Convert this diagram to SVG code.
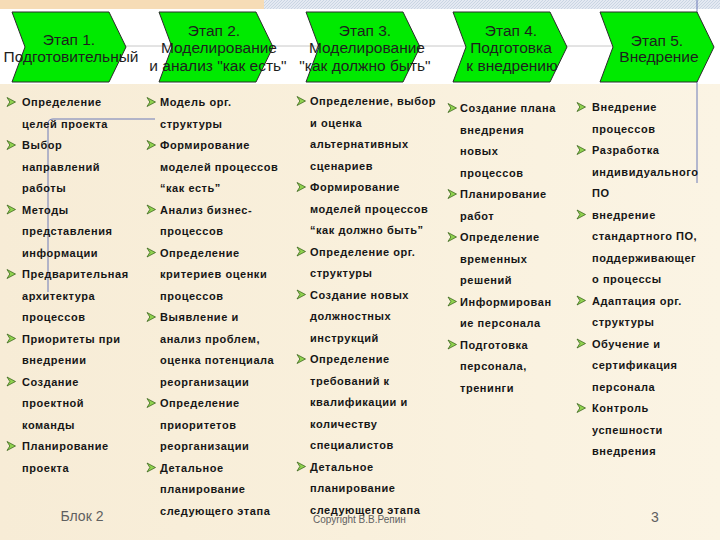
<svg xmlns="http://www.w3.org/2000/svg" xmlns:xlink="http://www.w3.org/1999/xlink" width="720" height="540" viewBox="0 0 720 540">
<defs>
<linearGradient id="bg" x1="0" y1="0" x2="1" y2="0">
<stop offset="0" stop-color="#f7ecd6"/>
<stop offset="0.5" stop-color="#f9f0dc"/>
<stop offset="1" stop-color="#fbf4e4"/>
</linearGradient>
<pattern id="hatch" width="3" height="3" patternUnits="userSpaceOnUse">
<rect width="3" height="3" fill="#e4e9f2"/>
<path d="M0,3 L3,0" stroke="#c4cfe0" stroke-width="0.8"/>
</pattern>
<g id="bul">
<path d="M0,-4.5 L8.5,0 L0,4.5 L2.8,0 Z" fill="#8fd14f" stroke="#2f5a12" stroke-width="0.7" stroke-linejoin="round"/>
</g>
<style>
.ch{fill:#00ea00;stroke:#2a2a2a;stroke-width:1}
.ct{font-family:"Liberation Sans",Arial,sans-serif;font-size:15.5px;fill:#1e1e1e;text-anchor:middle}
.b{font-family:"Liberation Sans",Arial,sans-serif;font-size:11px;font-weight:bold;letter-spacing:0.55px;fill:#161616}
.ft{font-family:"Liberation Sans",Arial,sans-serif;fill:#606060}
.conn{stroke:#c8c8c8;stroke-width:1;fill:none}
.blue{stroke:#6c7bb8;stroke-width:1;fill:none}
</style>
</defs>

<rect width="720" height="540" fill="url(#bg)"/>
<rect x="0" y="0" width="264" height="9" fill="#f6dcb6"/>
<rect x="264" y="0" width="456" height="9" fill="url(#hatch)"/>
<rect x="0" y="9" width="720" height="75" fill="#ffffff"/>

<g id="connectors">
<line class="conn" x1="126" y1="46" x2="615" y2="46"/>
<path class="blue" d="M48,292 L48,124 Q48,119 53,119 L155,119"/>
<line class="blue" x1="697" y1="0" x2="697" y2="183"/>
</g>

<g id="stage1">
<polygon class="ch" points="12,12 109,12 126,47 109,82 12,82 25,47"/>
<text class="ct" x="69" y="45">Этап 1.</text>
<text class="ct" x="71" y="62">Подготовительный</text>
</g>
<g id="stage2">
<polygon class="ch" points="159,12 256,12 273,47 256,82 159,82 172,47"/>
<text class="ct" x="214" y="36">Этап 2.</text>
<text class="ct" x="219" y="53">Моделирование</text>
<text class="ct" x="218" y="71">и анализ "как есть"</text>
</g>
<g id="stage3">
<polygon class="ch" points="306,12 403,12 420,47 403,82 306,82 319,47"/>
<text class="ct" x="365" y="36">Этап 3.</text>
<text class="ct" x="367" y="53">Моделирование</text>
<text class="ct" x="365" y="71">"как должно быть"</text>
</g>
<g id="stage4">
<polygon class="ch" points="453,12 550,12 567,47 550,82 453,82 466,47"/>
<text class="ct" x="511" y="36">Этап 4.</text>
<text class="ct" x="511" y="53">Подготовка</text>
<text class="ct" x="512" y="71">к внедрению</text>
</g>
<g id="stage5">
<polygon class="ch" points="600,12 697,12 714,47 697,82 600,82 613,47"/>
<text class="ct" x="657" y="46">Этап 5.</text>
<text class="ct" x="659" y="62">Внедрение</text>
</g>

<g id="list1">
<use xlink:href="#bul" x="7" y="102"/>
<use xlink:href="#bul" x="7" y="145"/>
<use xlink:href="#bul" x="7" y="209.5"/>
<use xlink:href="#bul" x="7" y="274"/>
<use xlink:href="#bul" x="7" y="338.5"/>
<use xlink:href="#bul" x="7" y="381.5"/>
<use xlink:href="#bul" x="7" y="446"/>
<text class="b">
<tspan x="22" y="106">Определение</tspan>
<tspan x="22" y="127.5">целей проекта</tspan>
<tspan x="22" y="149">Выбор</tspan>
<tspan x="22" y="170.5">направлений</tspan>
<tspan x="22" y="192">работы</tspan>
<tspan x="22" y="213.5">Методы</tspan>
<tspan x="22" y="235">представления</tspan>
<tspan x="22" y="256.5">информации</tspan>
<tspan x="22" y="278">Предварительная</tspan>
<tspan x="22" y="299.5">архитектура</tspan>
<tspan x="22" y="321">процессов</tspan>
<tspan x="22" y="342.5">Приоритеты при</tspan>
<tspan x="22" y="364">внедрении</tspan>
<tspan x="22" y="385.5">Создание</tspan>
<tspan x="22" y="407">проектной</tspan>
<tspan x="22" y="428.5">команды</tspan>
<tspan x="22" y="450">Планирование</tspan>
<tspan x="22" y="471.5">проекта</tspan>
</text>
</g>

<g id="list2">
<use xlink:href="#bul" x="147" y="102"/>
<use xlink:href="#bul" x="147" y="145"/>
<use xlink:href="#bul" x="147" y="209.5"/>
<use xlink:href="#bul" x="147" y="252.5"/>
<use xlink:href="#bul" x="147" y="317"/>
<use xlink:href="#bul" x="147" y="403"/>
<use xlink:href="#bul" x="147" y="467.5"/>
<text class="b">
<tspan x="160" y="106">Модель орг.</tspan>
<tspan x="160" y="127.5">структуры</tspan>
<tspan x="160" y="149">Формирование</tspan>
<tspan x="160" y="170.5">моделей процессов</tspan>
<tspan x="160" y="192">“как есть”</tspan>
<tspan x="160" y="213.5">Анализ бизнес-</tspan>
<tspan x="160" y="235">процессов</tspan>
<tspan x="160" y="256.5">Определение</tspan>
<tspan x="160" y="278">критериев оценки</tspan>
<tspan x="160" y="299.5">процессов</tspan>
<tspan x="160" y="321">Выявление и</tspan>
<tspan x="160" y="342.5">анализ проблем,</tspan>
<tspan x="160" y="364">оценка потенциала</tspan>
<tspan x="160" y="385.5">реорганизации</tspan>
<tspan x="160" y="407">Определение</tspan>
<tspan x="160" y="428.5">приоритетов</tspan>
<tspan x="160" y="450">реорганизации</tspan>
<tspan x="160" y="471.5">Детальное</tspan>
<tspan x="160" y="493">планирование</tspan>
<tspan x="160" y="514.5">следующего этапа</tspan>
</text>
</g>

<g id="list3">
<use xlink:href="#bul" x="297" y="101"/>
<use xlink:href="#bul" x="297" y="187"/>
<use xlink:href="#bul" x="297" y="251.5"/>
<use xlink:href="#bul" x="297" y="294.5"/>
<use xlink:href="#bul" x="297" y="359"/>
<use xlink:href="#bul" x="297" y="466.5"/>
<text class="b">
<tspan x="310" y="105">Определение, выбор</tspan>
<tspan x="310" y="126.5">и оценка</tspan>
<tspan x="310" y="148">альтернативных</tspan>
<tspan x="310" y="169.5">сценариев</tspan>
<tspan x="310" y="191">Формирование</tspan>
<tspan x="310" y="212.5">моделей процессов</tspan>
<tspan x="310" y="234">“как должно быть”</tspan>
<tspan x="310" y="255.5">Определение орг.</tspan>
<tspan x="310" y="277">структуры</tspan>
<tspan x="310" y="298.5">Создание новых</tspan>
<tspan x="310" y="320">должностных</tspan>
<tspan x="310" y="341.5">инструкций</tspan>
<tspan x="310" y="363">Определение</tspan>
<tspan x="310" y="384.5">требований к</tspan>
<tspan x="310" y="406">квалификации и</tspan>
<tspan x="310" y="427.5">количеству</tspan>
<tspan x="310" y="449">специалистов</tspan>
<tspan x="310" y="470.5">Детальное</tspan>
<tspan x="310" y="492">планирование</tspan>
<tspan x="310" y="513.5">следующего этапа</tspan>
</text>
</g>

<g id="list4">
<use xlink:href="#bul" x="448" y="108"/>
<use xlink:href="#bul" x="448" y="194"/>
<use xlink:href="#bul" x="448" y="237"/>
<use xlink:href="#bul" x="448" y="301.5"/>
<use xlink:href="#bul" x="448" y="344.5"/>
<text class="b">
<tspan x="460" y="112">Создание плана</tspan>
<tspan x="460" y="133.5">внедрения</tspan>
<tspan x="460" y="155">новых</tspan>
<tspan x="460" y="176.5">процессов</tspan>
<tspan x="460" y="198">Планирование</tspan>
<tspan x="460" y="219.5">работ</tspan>
<tspan x="460" y="241">Определение</tspan>
<tspan x="460" y="262.5">временных</tspan>
<tspan x="460" y="284">решений</tspan>
<tspan x="460" y="305.5">Информирован</tspan>
<tspan x="460" y="327">ие персонала</tspan>
<tspan x="460" y="348.5">Подготовка</tspan>
<tspan x="460" y="370">персонала,</tspan>
<tspan x="460" y="391.5">тренинги</tspan>
</text>
</g>

<g id="list5">
<use xlink:href="#bul" x="577" y="107"/>
<use xlink:href="#bul" x="577" y="150"/>
<use xlink:href="#bul" x="577" y="214.5"/>
<use xlink:href="#bul" x="577" y="300.5"/>
<use xlink:href="#bul" x="577" y="343.5"/>
<use xlink:href="#bul" x="577" y="408"/>
<text class="b">
<tspan x="592" y="111">Внедрение</tspan>
<tspan x="592" y="132.5">процессов</tspan>
<tspan x="592" y="154">Разработка</tspan>
<tspan x="592" y="175.5">индивидуального</tspan>
<tspan x="592" y="197">ПО</tspan>
<tspan x="592" y="218.5">внедрение</tspan>
<tspan x="592" y="240">стандартного ПО,</tspan>
<tspan x="592" y="261.5">поддерживающег</tspan>
<tspan x="592" y="283">о процессы</tspan>
<tspan x="592" y="304.5">Адаптация орг.</tspan>
<tspan x="592" y="326">структуры</tspan>
<tspan x="592" y="347.5">Обучение и</tspan>
<tspan x="592" y="369">сертификация</tspan>
<tspan x="592" y="390.5">персонала</tspan>
<tspan x="592" y="412">Контроль</tspan>
<tspan x="592" y="433.5">успешности</tspan>
<tspan x="592" y="455">внедрения</tspan>
</text>
</g>

<g id="footer">
<text class="ft" x="82" y="521" font-size="14" text-anchor="middle">Блок 2</text>
<text class="ft" x="313" y="523" font-size="10">Copyright В.В.Репин</text>
<text class="ft" x="655" y="522" font-size="14" text-anchor="middle">3</text>
</g>
</svg>
